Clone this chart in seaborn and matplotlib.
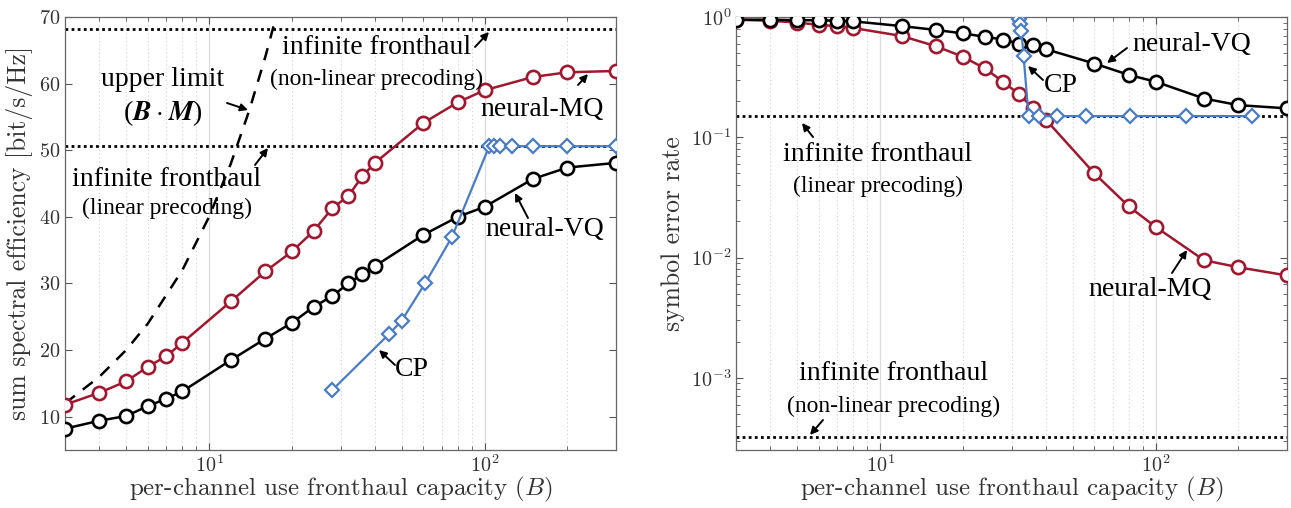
import matplotlib
matplotlib.use("Agg")
import matplotlib.pyplot as plt
import seaborn as sns
import pandas as pd
import numpy as np
from matplotlib.ticker import LogLocator, NullFormatter

# ---------------- data ----------------
B = [3, 4, 5, 6, 7, 8, 12, 16, 20, 24, 28, 32, 36, 40, 60, 80, 100, 150, 200, 300]
se_vq = [8.2, 9.4, 10.1, 11.6, 12.7, 13.8, 18.5, 21.7, 24.1, 26.5, 28.1, 30.0, 31.4, 32.6,
         37.3, 40.0, 41.5, 45.7, 47.4, 48.1]
se_mq = [11.8, 13.6, 15.3, 17.5, 19.1, 21.1, 27.3, 31.8, 34.8, 37.9, 41.3, 43.1, 46.1, 48.1,
         54.1, 57.2, 59.0, 61.0, 61.7, 61.9]
B_cp_se = [28, 45, 50, 61, 76, 104, 108, 114, 126, 150, 200, 300]
se_cp = [14.0, 22.4, 24.4, 30.1, 36.9, 50.6, 50.6, 50.6, 50.6, 50.6, 50.6, 50.6]
B_upper = [3, 4, 5, 6, 8, 10, 12, 14, 16, 17.5]
se_upper = [12, 16, 20, 24, 32, 40, 48, 56, 64, 70]
se_inf_linear = 50.7
se_inf_nonlinear = 68.2

ser_vq = [0.95, 0.95, 0.94, 0.94, 0.93, 0.92, 0.84, 0.78, 0.73, 0.685, 0.65, 0.60, 0.58, 0.54,
          0.41, 0.33, 0.29, 0.21, 0.185, 0.174]
ser_mq = [0.95, 0.93, 0.90, 0.86, 0.84, 0.81, 0.695, 0.57, 0.467, 0.374, 0.289, 0.227, 0.174, 0.14,
          0.050, 0.0266, 0.018, 0.0095, 0.0083, 0.0071]
B_cp_ser = [31.9, 32.3, 32.6, 33.2, 34.6, 37.7, 43.7, 56, 80.5, 129, 224]
ser_cp = [0.97, 0.87, 0.76, 0.47, 0.15, 0.15, 0.15, 0.15, 0.15, 0.15, 0.15]
ser_inf_linear = 0.15
ser_inf_nonlinear = 3.2e-4

RED = "#A0182F"
BLUE = "#4A7CC6"

sns.set_style("ticks")
plt.rcParams["mathtext.fontset"] = "cm"
plt.rcParams["axes.formatter.use_mathtext"] = True
plt.rcParams["font.family"] = ["cmr10", "DejaVu Serif"]

ANN = "Liberation Serif"

fig = plt.figure(figsize=(12.91, 5.08), dpi=100)
W, H = 1291, 508
axL = fig.add_axes([65 / W, 1 - 450 / H, 551 / W, 433 / H])
axR = fig.add_axes([736 / W, 1 - 450 / H, 551 / W, 433 / H])

circ = dict(marker="o", markersize=9.5, markerfacecolor="white", markeredgewidth=1.9, linewidth=1.8)
diam = dict(marker="D", markersize=7, markerfacecolor="white", markeredgewidth=1.6, linewidth=1.6)
dotted = dict(color="black", linestyle=(0, (1, 1.2)), linewidth=2.0)


def line(ax, x, y, color, style, ls="-", z=3):
    df = pd.DataFrame({"x": x, "y": y})
    sns.lineplot(data=df, x="x", y="y", ax=ax, color=color, estimator=None, sort=False,
                 linestyle=ls, markeredgecolor=color, zorder=z, **style)


for ax in (axL, axR):
    ax.set_xscale("log")
    ax.set_xlim(3, 300)

# ---- left panel ----
axL.set_ylim(5, 70)
axL.axhline(se_inf_nonlinear, zorder=2, **dotted)
axL.axhline(se_inf_linear, zorder=2, **dotted)
sns.lineplot(x=B_upper, y=se_upper, ax=axL, color="black", linestyle=(0, (5, 4)), linewidth=1.8,
             estimator=None, sort=False)
line(axL, B, se_mq, RED, circ)
line(axL, B, se_vq, "black", circ)
line(axL, B_cp_se, se_cp, BLUE, diam)
axL.set_yticks([10, 20, 30, 40, 50, 60, 70])
axL.set_ylabel("sum spectral efficiency [bit/s/Hz]", fontsize=18.5, color="#333333", labelpad=4)

# ---- right panel ----
axR.set_yscale("log")
axR.set_ylim(10 ** -3.6, 1)
axR.axhline(ser_inf_linear, zorder=2, **dotted)
axR.axhline(ser_inf_nonlinear, zorder=2, **dotted)
line(axR, B, ser_mq, RED, circ)
line(axR, B, ser_vq, "black", circ)
line(axR, B_cp_ser, ser_cp, BLUE, diam)
axR.yaxis.set_major_locator(LogLocator(base=10, numticks=10))
axR.yaxis.set_minor_locator(LogLocator(base=10, subs=np.arange(2, 10), numticks=20))
axR.yaxis.set_minor_formatter(NullFormatter())
axR.set_ylabel("symbol error rate", fontsize=18.5, color="#333333", labelpad=4)

for ax in (axL, axR):
    ax.xaxis.set_major_locator(LogLocator(base=10, numticks=10))
    ax.xaxis.set_minor_locator(LogLocator(base=10, subs=np.arange(2, 10), numticks=20))
    ax.xaxis.set_minor_formatter(NullFormatter())
    ax.set_xlabel("per-channel use fronthaul capacity ($B$)", fontsize=18, color="#333333",
                  labelpad=-1)
    ax.grid(which="major", axis="x", color="#dcdcdc", linewidth=0.9, linestyle="-", zorder=0)
    ax.grid(which="minor", axis="x", color="#d0d0d0", linewidth=0.8, linestyle=(0, (1, 2.5)), zorder=0)
    ax.tick_params(which="both", direction="in", top=True, right=True, colors="#555555",
                   labelcolor="#333333", labelsize=14.5)
    ax.tick_params(axis="x", which="major", pad=3)
    ax.tick_params(which="major", length=5)
    ax.tick_params(which="minor", length=3)
    for s in ax.spines.values():
        s.set_color("#666666")
        s.set_linewidth(0.9)
    ax.set_axisbelow(True)

# ---- annotations ----
arrow = dict(arrowstyle="-|>", color="black", lw=1.4, mutation_scale=11, shrinkA=0, shrinkB=0)


def fr(ax, px, py):
    left = 65 if ax is axL else 736
    return ((px - left) / 551, (450 - py) / 433)


def txt(ax, px, py, s, size, **kw):
    ax.text(*fr(ax, px, py), s, transform=ax.transAxes, ha="center", va="center",
            fontsize=size, family=ANN, color="black", **kw)


def arr(ax, tail, tip):
    ax.annotate("", xy=fr(ax, *tip), xycoords="axes fraction", xytext=fr(ax, *tail),
                textcoords="axes fraction", arrowprops=arrow)


txt(axL, 377, 48, "infinite fronthaul", 20)
txt(axL, 377, 79, "(non-linear precoding)", 17)
arr(axL, (475, 47), (489, 32))
txt(axL, 163, 80, "upper limit", 20)
txt(axL, 163, 113, "($\\boldsymbol{B\\cdot M}$)", 20)
arr(axL, (227, 103), (248, 110))
txt(axL, 167, 180, "infinite fronthaul", 20)
txt(axL, 167, 208, "(linear precoding)", 17)
arr(axL, (255, 165), (268, 148))
txt(axL, 542, 110, "neural-MQ", 20)
arr(axL, (578, 85), (588, 74))
txt(axL, 545, 230, "neural-VQ", 20)
arr(axL, (528, 218), (515, 193))
txt(axL, 412, 370, "CP", 20)
arr(axL, (395, 365), (379, 350))

txt(axR, 1192, 45, "neural-VQ", 20)
arr(axR, (1127, 48), (1107, 63))
txt(axR, 1061, 86, "CP", 20)
arr(axR, (1043, 80), (1028, 66))
txt(axR, 878, 155, "infinite fronthaul", 20)
txt(axR, 878, 186, "(linear precoding)", 17)
arr(axR, (813, 137), (802, 123))
txt(axR, 1150, 290, "neural-MQ", 20)
arr(axR, (1172, 273), (1187, 250))
txt(axR, 894, 373, "infinite fronthaul", 20)
txt(axR, 894, 406, "(non-linear precoding)", 17)
arr(axR, (823, 420), (810, 435))

fig.savefig("out.png", dpi=100)
